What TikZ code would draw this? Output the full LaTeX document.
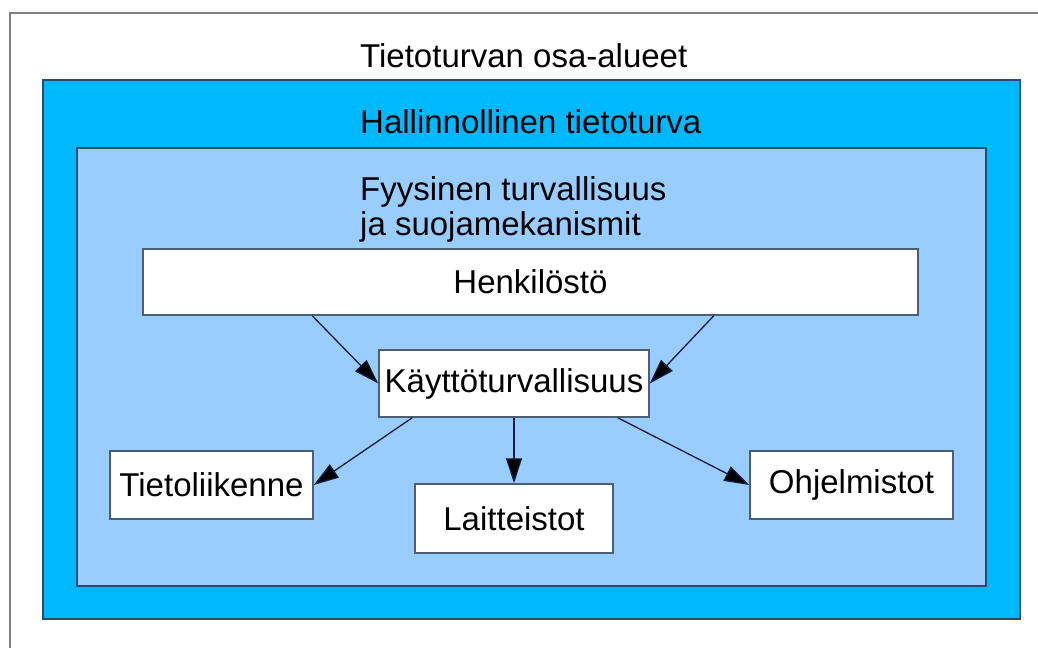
\documentclass[tikz,border=0pt]{standalone}
\usepackage{fontspec}
\setmainfont{Liberation Sans}
\usetikzlibrary{arrows.meta}

\definecolor{hallinto}{RGB}{0,184,255}
\definecolor{fyysinen}{RGB}{153,204,255}
\definecolor{reuna}{RGB}{30,80,110}
\definecolor{laatikkoreuna}{RGB}{75,95,115}
\definecolor{nuoli}{RGB}{20,28,60}

\begin{document}
\begin{tikzpicture}[x=1pt,y=-1pt,
  font=\fontsize{33}{35}\selectfont,
  laatikko/.style={draw=laatikkoreuna,line width=1.5pt,fill=white,inner sep=0pt},
  otsikko/.style={inner sep=0pt,anchor=base west},
  alue/.style={draw=reuna,line width=2pt},
  nuolet/.style={draw=nuoli,line width=1.3pt,-{Triangle[length=25pt,width=16pt,fill=black]}}]
\useasboundingbox[fill=white] (0,0) rectangle (1038,648);
\draw[gray,line width=2pt] (1038,13) -| (10,648);
\filldraw[alue,fill=hallinto] (43,80) rectangle (1020,619);
\filldraw[alue,fill=fyysinen] (77,148) rectangle (986,586);
\node[otsikko] (otsikko) at (360,67) {Tietoturvan osa-alueet};
\node[otsikko] (hallinto) at (360,133) {Hallinnollinen tietoturva};
\node[otsikko,anchor=north west,align=left] (fyysinen) at (360,176) {Fyysinen turvallisuus\\ja suojamekanismit};
\node[laatikko,minimum width=775pt,minimum height=66pt] (henk) at (530.5,282) {Henkilöstö};
\node[laatikko,minimum width=270pt,minimum height=67pt] (kayt) at (514,383.5) {Käyttöturvallisuus};
\node[laatikko,minimum width=203pt,minimum height=68pt] (tieto) at (211.5,485) {Tietoliikenne};
\node[laatikko,minimum width=198pt,minimum height=69pt] (lait) at (514,518.5) {Laitteistot};
\node[laatikko,minimum width=203pt,minimum height=68pt] (ohj) at (851.5,485) {Ohjelmistot};
\draw[nuolet] ([xshift=170pt]henk.south west) -- (kayt.west);
\draw[nuolet] ([xshift=-205pt]henk.south east) -- (kayt.east);
\draw[nuolet] ([xshift=34pt]kayt.south west) -- (tieto.east);
\draw[nuolet] (kayt.south) -- (lait.north);
\draw[nuolet] ([xshift=-32pt]kayt.south east) -- (ohj.west);
\end{tikzpicture}
\end{document}
